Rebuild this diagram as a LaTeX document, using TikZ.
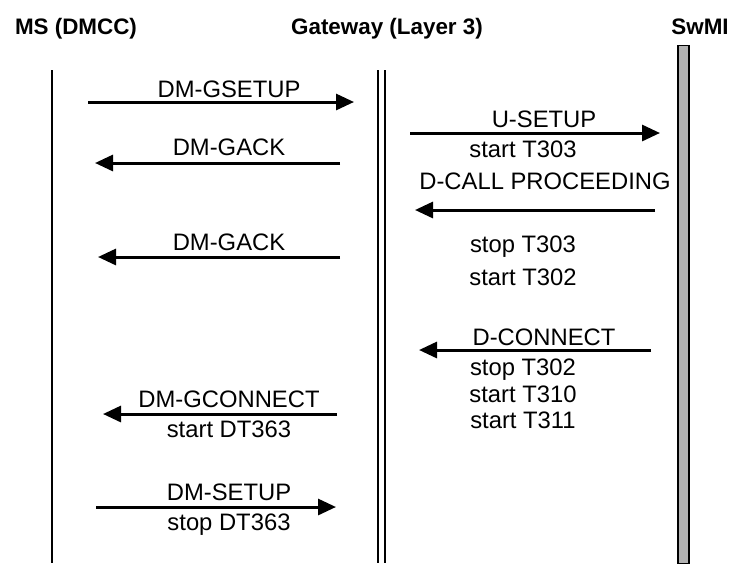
\documentclass[tikz,border=0pt]{standalone}
\usepackage{fontspec}
\setmainfont{Liberation Sans}
\usetikzlibrary{arrows.meta}
\tikzset{
  msg/.style={line width=1.5pt,-{Triangle[length=9pt,width=8pt]}},
  lbl/.style={inner sep=0pt,anchor=base,font=\fontsize{11.9}{14}\selectfont},
  head/.style={inner sep=0pt,anchor=base,font=\fontsize{11.2}{13}\selectfont\bfseries},
  life/.style={line width=0.6pt},
}
\begin{document}
\begin{tikzpicture}[x=0.5pt,y=-0.5pt]
  \useasboundingbox (0,0) rectangle (731,563);
  % entities
  \node[head] (ms) at (76,34) {MS (DMCC)};
  \node[head] (gw) at (387,34) {Gateway (Layer 3)};
  \node[head] (swmi) at (700,34) {SwMI};

  \coordinate (msTop) at (52,70);
  \coordinate (msBot) at (52,563);
  \coordinate (gwTopA) at (378,70);
  \coordinate (gwBotA) at (378,563);
  \coordinate (gwTopB) at (385,70);
  \coordinate (gwBotB) at (385,563);
  \node[draw=black,line width=0.6pt,fill=gray!60,minimum width=5.5pt,minimum height=259pt,inner sep=0pt,anchor=north] (swmiBar) at (683.5,45) {};

  \path [life] (msTop) edge (msBot);
  \path [life] (gwTopA) edge (gwBotA);
  \path [life] (gwTopB) edge (gwBotB);

  % messages
  \node[lbl] (gsetup) at (229,97) {DM-GSETUP};
  \coordinate (gsetupA) at (88,102);
  \coordinate (gsetupB) at (354,102);
  \draw [msg] (gsetupA) -- (gsetupB);

  \node[lbl] (usetup) at (544,127) {U-SETUP};
  \coordinate (usetupA) at (410,133);
  \coordinate (usetupB) at (660,133);
  \draw [msg] (usetupA) -- (usetupB);
  \node[lbl] (startTa) at (523,157) {start T303};

  \node[lbl] (gackA) at (229,155) {DM-GACK};
  \coordinate (gackAa) at (340,163);
  \coordinate (gackAb) at (95,163);
  \draw [msg] (gackAa) -- (gackAb);

  \node[lbl] (dcall) at (545,189) {D-CALL PROCEEDING};
  \coordinate (dcallA) at (655,210);
  \coordinate (dcallB) at (415,210);
  \draw [msg] (dcallA) -- (dcallB);

  \node[lbl] (gackB) at (229,250) {DM-GACK};
  \coordinate (gackBa) at (340,257);
  \coordinate (gackBb) at (98,257);
  \draw [msg] (gackBa) -- (gackBb);

  \node[lbl] (stopTa) at (523,252) {stop T303};
  \node[lbl] (startTb) at (523,285) {start T302};

  \node[lbl] (dconn) at (544,345) {D-CONNECT};
  \coordinate (dconnA) at (651,350);
  \coordinate (dconnB) at (419,350);
  \draw [msg] (dconnA) -- (dconnB);
  \node[lbl] (stopTb) at (523,375) {stop T302};
  \node[lbl] (startTc) at (523,402) {start T310};
  \node[lbl] (startTd) at (523,428) {start T311};

  \node[lbl] (gconn) at (229,407) {DM-GCONNECT};
  \coordinate (gconnA) at (337,414);
  \coordinate (gconnB) at (103,414);
  \draw [msg] (gconnA) -- (gconnB);
  \node[lbl] (startDT) at (229,437) {start DT363};

  \node[lbl] (dsetup) at (229,500) {DM-SETUP};
  \coordinate (dsetupA) at (96,507);
  \coordinate (dsetupB) at (336,507);
  \draw [msg] (dsetupA) -- (dsetupB);
  \node[lbl] (stopDT) at (229,530) {stop DT363};
\end{tikzpicture}
\end{document}
